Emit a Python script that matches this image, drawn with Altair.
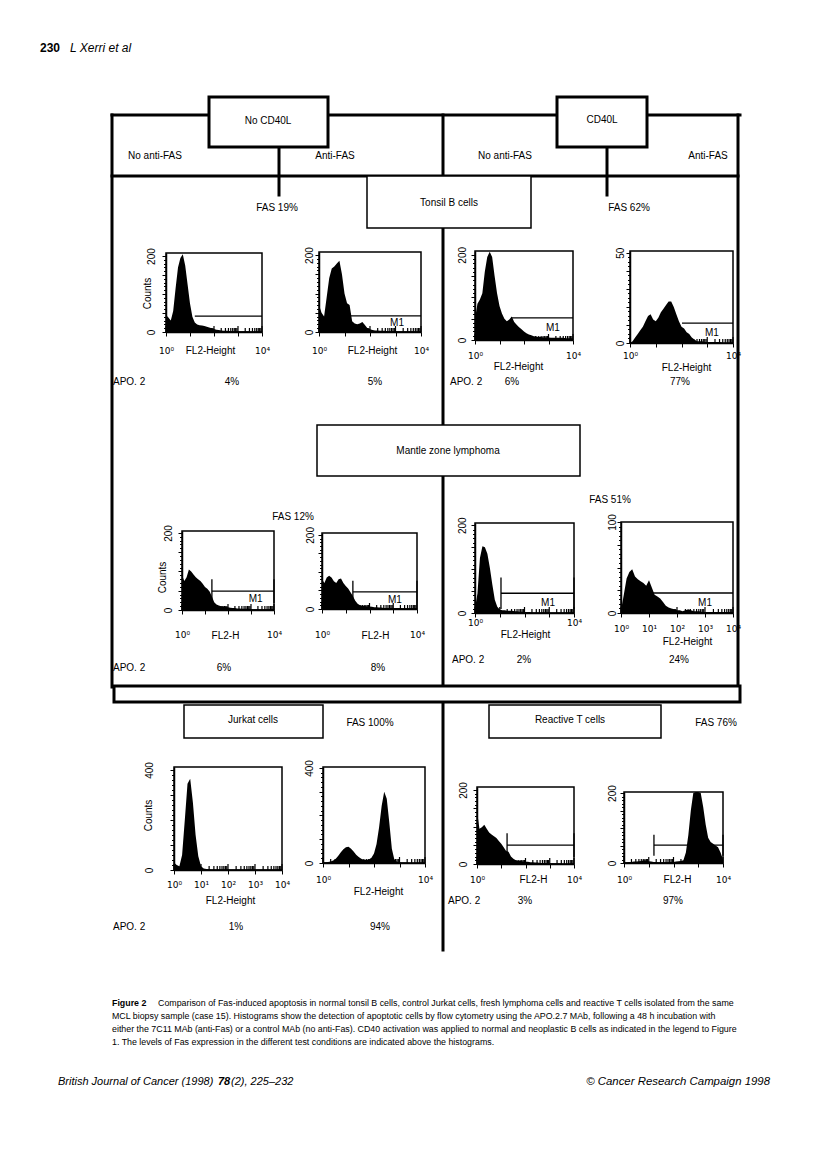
import altair as alt
import pandas as pd

FONT = "Liberation Sans"
SUP_FONT = "DejaVu Sans"

# ====================== DATA ======================
# Histogram counts, one value every 0.1 decade of FL2 (10^0 ... 10^4)
DECADES = [i / 10 for i in range(41)]

tonsil_noCD40L_noFas = [45, 38, 30, 55, 115, 170, 195, 205, 175, 125, 75, 40, 25, 20, 18, 17, 16, 14, 12, 10,
                        8, 6, 5, 4, 3, 3, 3, 2, 2, 2, 2, 2, 2, 2, 2, 1, 1, 1, 1, 1, 1]
tonsil_noCD40L_antiFas = [70, 50, 40, 90, 140, 165, 170, 178, 185, 150, 100, 75, 70, 28, 22, 20, 22, 26, 18, 10,
                          7, 5, 4, 4, 3, 3, 3, 2, 2, 2, 2, 2, 2, 2, 2, 2, 2, 2, 1, 1, 1]
tonsil_CD40L_noFas = [50, 85, 95, 110, 160, 195, 207, 195, 150, 110, 80, 62, 50, 44, 48, 55, 42, 36, 30, 25,
                      20, 16, 13, 11, 9, 8, 7, 7, 6, 6, 6, 5, 5, 5, 5, 5, 5, 4, 4, 4, 4]
tonsil_CD40L_antiFas = [0, 1, 3, 5, 7, 9, 12, 15, 16, 13, 12, 14, 17, 19, 21, 23, 23, 20, 16, 12,
                        9, 8, 6, 5, 3, 2, 1, 1, 1, 0.5, 0.5, 0.5, 0.5, 0.5, 0.5, 0.5, 0, 0, 0, 0, 0]
mcl_noCD40L_noFas = [90, 75, 85, 105, 100, 92, 85, 80, 75, 68, 60, 55, 48, 35, 20, 14, 12, 10, 9, 8,
                     7, 6, 5, 5, 4, 4, 3, 3, 3, 3, 2, 2, 2, 2, 2, 2, 2, 2, 2, 2, 2]
mcl_noCD40L_antiFas = [80, 70, 85, 90, 85, 75, 70, 80, 82, 70, 62, 55, 45, 35, 22, 14, 10, 9, 8, 7,
                       7, 6, 5, 5, 4, 4, 3, 3, 3, 3, 3, 3, 3, 3, 2, 2, 2, 2, 2, 2, 2]
mcl_CD40L_noFas = [10, 45, 125, 152, 150, 135, 103, 65, 30, 14, 8, 6, 6, 5, 5, 5, 4, 4, 3, 3,
                   2, 2, 2, 1, 1, 1, 1, 1, 1, 1, 1, 1, 1, 1, 1, 1, 1, 1, 1, 1, 1]
mcl_CD40L_antiFas = [3, 20, 38, 45, 48, 40, 37, 35, 33, 30, 36, 28, 20, 18, 16, 12, 8, 6, 5, 4,
                     3, 3, 2, 3, 4, 3, 2, 2, 2, 1, 1, 1, 1, 1, 1, 1, 1, 1, 1, 1, 1]
jurkat_noFas = [30, 20, 15, 60, 200, 345, 365, 270, 140, 55, 15, 6, 4, 3, 2, 2, 2, 2, 2, 2,
                2, 2, 2, 2, 2, 2, 2, 2, 2, 2, 2, 2, 2, 2, 2, 2, 2, 2, 2, 2, 2]
jurkat_antiFas = [3, 3, 4, 6, 10, 18, 30, 45, 58, 66, 68, 60, 48, 35, 25, 18, 14, 13, 15, 22,
                  40, 80, 150, 240, 300, 270, 170, 60, 14, 5, 3, 2, 2, 2, 1, 1, 1, 1, 1, 1, 1]
reactT_noFas = [143, 95, 99, 106, 95, 85, 80, 75, 70, 62, 55, 45, 35, 33, 20, 14, 10, 9, 8, 7,
                6, 6, 5, 5, 4, 4, 3, 3, 3, 2, 2, 2, 2, 2, 2, 1, 1, 1, 1, 1, 1]
reactT_antiFas = [2, 2, 3, 3, 4, 4, 5, 6, 8, 7, 5, 4, 3, 3, 2, 2, 2, 2, 2, 3,
                  3, 4, 5, 6, 8, 30, 80, 150, 200, 203, 203, 200, 160, 110, 72, 60, 55, 50, 45, 30, 10]

HISTS = [tonsil_noCD40L_noFas, tonsil_noCD40L_antiFas, tonsil_CD40L_noFas, tonsil_CD40L_antiFas,
         mcl_noCD40L_noFas, mcl_noCD40L_antiFas, mcl_CD40L_noFas, mcl_CD40L_antiFas,
         jurkat_noFas, jurkat_antiFas, reactT_noFas, reactT_antiFas]

# Count axis: top of frame, labelled top tick, minor tick step, major tick step
Y_MAX = [208, 208, 209, 51, 205, 205, 205, 100, 412, 404, 208, 203]
Y_TOP_LABEL = [200, 200, 200, 50, 200, 200, 200, 100, 400, 400, 200, 200]
Y_STEP = [10, 10, 10, 2.5, 10, 10, 10, 5, 20, 20, 10, 10]
Y_MAJOR = [50, 50, 50, 10, 50, 50, 50, 25, 100, 100, 50, 50]

# M1 marker: (start decade, level in counts, half height of end bars) ; label position
GATES = [(1.2, 42, 0), (1.22, 42, 0), (1.47, 52, 0), (2.02, 11, 0),
         (1.3, 49, 31), (1.3, 46, 30), (1.05, 45, 36), (1.1, 22, 0),
         None, None, (1.24, 51, 32), (1.21, 51, 30)]
M1_LABEL = [None, (3.06, 23), (3.18, 28), (3.18, 5.5), (3.2, 28), (3.07, 24), (2.95, 23), (3.0, 11),
            None, None, None, None]

X_TITLES = ["FL2-Height", "FL2-Height", "FL2-Height", "FL2-Height", "FL2-H", "FL2-H",
            "FL2-Height", "FL2-Height", "FL2-Height", "FL2-Height", "FL2-H", "FL2-H"]
X_LABEL_MODE = ["ends", "ends", "ends", "ends", "ends", "ends", "ends", "all", "all", "ends", "ends", "ends"]
COUNTS_TITLE = [True, False, False, False, True, False, False, False, True, False, False, False]

APO_VALUES = ["4%", "5%", "6%", "77%", "6%", "8%", "2%", "24%", "1%", "94%", "3%", "97%"]
FAS_VALUES = ["FAS 19%", "FAS 62%", "FAS 12%", "FAS 51%", "FAS 100%", "FAS 76%"]

CAPTION = [
    "Comparison of Fas-induced apoptosis in normal tonsil B cells, control Jurkat cells, fresh lymphoma cells and reactive T cells isolated from the same",
    "MCL biopsy sample (case 15). Histograms show the detection of apoptotic cells by flow cytometry using the APO.2.7 MAb, following a 48 h incubation with",
    "either the 7C11 MAb (anti-Fas) or a control MAb (no anti-Fas). CD40 activation was applied to normal and neoplastic B cells as indicated in the legend to Figure",
    "1. The levels of Fas expression in the different test conditions are indicated above the histograms.",
]

# ====================== LAYOUT (page pixels) ======================
W, H, M = 800, 1139, 8

PANEL_BOX = [(166, 262, 253, 332), (319, 421, 252, 332), (475, 573, 251, 340), (630, 733, 251, 343),
             (182, 274, 531, 610), (322, 417, 533, 609), (475, 574, 523, 613), (621, 733, 522, 613),
             (174, 282, 767, 870), (323, 425, 767, 863), (477, 574, 787, 864), (624, 723, 792, 863)]
Y_LABEL_OFF = [15, 10, 13, 10, 14, 12, 13, 9, 25, 14, 14, 12]
COUNTS_POS = [(147, 293), None, None, None, (162, 577), None, None, None, (148, 815), None, None, None]
X_LABEL_Y = [350, 350, 355, 355, 634, 634, 622, 628, 884, 879, 879, 879]
X_TITLE_POS = [(210, 350), (372, 350), (518, 366), (686, 367), (225, 635), (375, 635),
               (525, 634), (687, 641), (230, 900), (378, 891), (533, 879), (677, 879)]
MINOR_TICK_PX, MAJOR_TICK_PX = 4, 6   # inward x ticks

FRAME_LINES = [  # x1, y1, x2, y2, width
    (112, 115, 740, 115, 3), (112, 115, 112, 687, 3), (738, 115, 738, 687, 3),
    (112, 176, 738, 176, 3), (443, 115, 443, 950, 3),
    (279, 147, 279, 195, 3), (607, 147, 607, 195, 3),
]
FRAME_BOXES = [  # x1, y1, x2, y2, width
    (209, 97, 328, 147, 3), (557, 97, 647, 147, 3),
    (367, 176, 531, 228, 1.5), (317, 425, 580, 476, 1.5),
    (114, 686, 740, 702, 3),
    (184, 705, 323, 738, 1.5), (489, 705, 661, 738, 1.5),
]

TEXTS = [  # x, y, text, size, align, weight, style
    (40, 48, "230", 12, "left", "bold", "normal"),
    (70, 48, "L Xerri et al", 12, "left", "normal", "italic"),
    (268, 121, "No CD40L", 10, "center", "normal", "normal"),
    (602, 120, "CD40L", 10, "center", "normal", "normal"),
    (155, 156, "No anti-FAS", 10, "center", "normal", "normal"),
    (335, 156, "Anti-FAS", 10, "center", "normal", "normal"),
    (505, 156, "No anti-FAS", 10, "center", "normal", "normal"),
    (708, 156, "Anti-FAS", 10, "center", "normal", "normal"),
    (449, 203, "Tonsil B cells", 10, "center", "normal", "normal"),
    (277, 208, FAS_VALUES[0], 10, "center", "normal", "normal"),
    (629, 208, FAS_VALUES[1], 10, "center", "normal", "normal"),
    (448, 451, "Mantle zone lymphoma", 10, "center", "normal", "normal"),
    (293, 517, FAS_VALUES[2], 10, "center", "normal", "normal"),
    (610, 500, FAS_VALUES[3], 10, "center", "normal", "normal"),
    (253, 720, "Jurkat cells", 10, "center", "normal", "normal"),
    (370, 723, FAS_VALUES[4], 10, "center", "normal", "normal"),
    (570, 720, "Reactive T cells", 10, "center", "normal", "normal"),
    (716, 723, FAS_VALUES[5], 10, "center", "normal", "normal"),
    # APO.2 rows
    (113, 382, "APO. 2", 10, "left", "normal", "normal"),
    (232, 382, APO_VALUES[0], 10, "center", "normal", "normal"),
    (375, 382, APO_VALUES[1], 10, "center", "normal", "normal"),
    (450, 382, "APO. 2", 10, "left", "normal", "normal"),
    (512, 382, APO_VALUES[2], 10, "center", "normal", "normal"),
    (680, 382, APO_VALUES[3], 10, "center", "normal", "normal"),
    (113, 668, "APO. 2", 10, "left", "normal", "normal"),
    (224, 668, APO_VALUES[4], 10, "center", "normal", "normal"),
    (378, 668, APO_VALUES[5], 10, "center", "normal", "normal"),
    (452, 660, "APO. 2", 10, "left", "normal", "normal"),
    (524, 660, APO_VALUES[6], 10, "center", "normal", "normal"),
    (679, 660, APO_VALUES[7], 10, "center", "normal", "normal"),
    (113, 927, "APO. 2", 10, "left", "normal", "normal"),
    (236, 927, APO_VALUES[8], 10, "center", "normal", "normal"),
    (380, 927, APO_VALUES[9], 10, "center", "normal", "normal"),
    (448, 901, "APO. 2", 10, "left", "normal", "normal"),
    (525, 901, APO_VALUES[10], 10, "center", "normal", "normal"),
    (673, 901, APO_VALUES[11], 10, "center", "normal", "normal"),
    # caption
    (112, 1003, "Figure 2", 8.85, "left", "bold", "normal"),
    (158, 1003, CAPTION[0], 8.85, "left", "normal", "normal"),
    (112, 1016, CAPTION[1], 8.85, "left", "normal", "normal"),
    (112, 1029, CAPTION[2], 8.85, "left", "normal", "normal"),
    (112, 1042, CAPTION[3], 8.85, "left", "normal", "normal"),
    # footer
    (58, 1082, "British Journal of Cancer (1998)", 11, "left", "normal", "italic"),
    (218, 1082, "78", 11, "left", "bold", "italic"),
    (231, 1082, "(2), 225\u2013232", 11, "left", "normal", "italic"),
    (770, 1082, "\u00a9 Cancer Research Campaign 1998", 11.4, "right", "normal", "italic"),
]

# ====================== BUILD ======================
FX = alt.Scale(domain=[M, M + W], range=[0, W], nice=False, zero=False)
FY = alt.Scale(domain=[M, M + H], range=[0, H], nice=False, zero=False)

lines_df = pd.DataFrame(FRAME_LINES, columns=["x", "y", "x2", "y2", "w"])
boxes_df = pd.DataFrame(FRAME_BOXES, columns=["x", "y", "x2", "y2", "w"])

frame_layers = [
    alt.Chart(lines_df).mark_rule(color="black", strokeCap="square").encode(
        x=alt.X("x:Q", scale=FX, axis=None), x2="x2:Q",
        y=alt.Y("y:Q", scale=FY, axis=None), y2="y2:Q",
        strokeWidth=alt.StrokeWidth("w:Q", scale=None)),
    alt.Chart(boxes_df).mark_rect(fill="white", stroke="black").encode(
        x=alt.X("x:Q", scale=FX, axis=None), x2="x2:Q",
        y=alt.Y("y:Q", scale=FY, axis=None), y2="y2:Q",
        strokeWidth=alt.StrokeWidth("w:Q", scale=None)),
]

groups = {}
for (x, y, t, size, align, weight, style) in TEXTS:
    groups.setdefault((size, align, weight, style), []).append((x, y, t))
for (size, align, weight, style), rows in groups.items():
    df = pd.DataFrame(rows, columns=["x", "y", "t"])
    frame_layers.append(
        alt.Chart(df).mark_text(font=FONT, fontSize=size, align=align, baseline="middle",
                                fontWeight=weight, fontStyle=style, color="black").encode(
            x=alt.X("x:Q", scale=FX, axis=None), y=alt.Y("y:Q", scale=FY, axis=None), text="t:N"))

frame = alt.layer(*frame_layers)

SUP = "['\u2070','\u00b9','\u00b2','\u00b3','\u2074']"
DECADE_TICKS = [1, 10, 100, 1000, 10000]
X_TICKS = [k * 10 ** e for e in range(4) for k in range(1, 10)] + [10000]
one = pd.DataFrame({"k": [0]})


def make_panel(i):
    x0, x1, y0, y1 = PANEL_BOX[i]
    ymax = Y_MAX[i]
    xs = alt.Scale(type="log", domain=[1, 10000], range=[x0 - M, x1 - M], nice=False)
    ys = alt.Scale(domain=[0, ymax], range=[y1 - M, y0 - M], nice=False, zero=False)

    shown = "[1,10000]" if X_LABEL_MODE[i] == "ends" else "[1,10,100,1000,10000]"
    tx, ty = X_TITLE_POS[i]
    xaxis = alt.Axis(
        orient="bottom", offset=(y1 - M) - H, values=DECADE_TICKS,
        labelExpr=f"indexof({shown}, datum.value) >= 0 ? '10' + {SUP}[round(log(datum.value)/LN10)] : ''",
        labelOverlap=False, labelFlush=False, labelBaseline="middle",
        labelPadding=X_LABEL_Y[i] - y1 - 4, labelFont=SUP_FONT, labelFontSize=9, labelColor="black",
        tickColor="black", tickWidth=1, tickSize=4,
        domainColor="black", domainWidth=1.5, grid=False,
        titleFont=FONT, titleFontSize=10, titleFontWeight="normal", titleColor="black",
        titleX=tx - M, titleY=ty - y1, titleBaseline="middle", titleAlign="center", titleAngle=0)

    nsteps = int(round(Y_TOP_LABEL[i] / Y_STEP[i]))
    yticks = [round(k * Y_STEP[i], 3) for k in range(nsteps + 1)]
    ykw = dict(
        orient="left", offset=-(x0 - M), values=yticks,
        labelExpr=f"datum.value == 0 || datum.value == {Y_TOP_LABEL[i]} ? datum.label : ''",
        labelOverlap=False, labelFlush=False, labelAngle=270, labelAlign="center", labelBaseline="middle",
        labelPadding=Y_LABEL_OFF[i] - 4, labelFont=FONT, labelFontSize=10, labelColor="black",
        tickColor="black", tickWidth=1,
        tickSize={"condition": {"test": f"datum.value % {Y_MAJOR[i]} == 0", "value": 4}, "value": 2.5},
        domainColor="black", domainWidth=1.5, grid=False,
        titleFont=FONT, titleFontSize=10, titleFontWeight="normal", titleColor="black")
    if COUNTS_POS[i]:
        cx, cy = COUNTS_POS[i]
        ykw.update(titleX=cx - x0, titleY=cy - M, titleAngle=270, titleBaseline="middle", titleAlign="center")
    yaxis = alt.Axis(**ykw)
    xt = X_TITLES[i]
    yt = "Counts" if COUNTS_TITLE[i] else ""

    def X(field):
        return alt.X(field, scale=xs, axis=xaxis, title=xt)

    def Y(field):
        return alt.Y(field, scale=ys, axis=yaxis, title=yt)

    def XD(v):
        return alt.XDatum(v, scale=xs, axis=xaxis, title=xt)

    def YD(v):
        return alt.YDatum(v, scale=ys, axis=yaxis, title=yt)

    # inward x ticks (CellQuest style), length converted from pixels to counts
    per_px = ymax / (y1 - y0)
    tdf = pd.DataFrame({
        "fl": X_TICKS,
        "n": [0] * len(X_TICKS),
        "n2": [(MAJOR_TICK_PX if v in DECADE_TICKS else MINOR_TICK_PX) * per_px for v in X_TICKS],
    })

    df = pd.DataFrame({"fl": [10 ** d for d in DECADES], "n": HISTS[i]})
    layers = [
        alt.Chart(df).mark_area(color="black", interpolate="linear").encode(x=X("fl:Q"), y=Y("n:Q")),
        alt.Chart(tdf).mark_rule(color="black", strokeWidth=1.2).encode(x=X("fl:Q"), y=Y("n:Q"), y2="n2:Q"),
        alt.Chart(one).mark_rect(filled=False, stroke="black", strokeWidth=1.5).encode(
            x=XD(1), x2=alt.X2Datum(10000), y=YD(0), y2=alt.Y2Datum(ymax)),
    ]
    g = GATES[i]
    if g:
        s, lvl, half = g
        gdf = pd.DataFrame({"fl": [10 ** s], "fl2": [10000], "n": [lvl]})
        layers.append(alt.Chart(gdf).mark_rule(color="black", strokeWidth=1.3).encode(
            x=X("fl:Q"), x2="fl2:Q", y=Y("n:Q")))
        if half:
            vdf = pd.DataFrame({"fl": [10 ** s, 10000], "n": [max(0, lvl - half)] * 2, "n2": [lvl + half] * 2})
            layers.append(alt.Chart(vdf).mark_rule(color="black", strokeWidth=1.3).encode(
                x=X("fl:Q"), y=Y("n:Q"), y2="n2:Q"))
    lab = M1_LABEL[i]
    if lab:
        layers.append(alt.Chart(one).mark_text(font=FONT, fontSize=10, align="center", baseline="middle",
                                               color="black").encode(
            x=XD(10 ** lab[0]), y=YD(lab[1]), text=alt.value("M1")))
    return alt.layer(*layers)


panels = [make_panel(i) for i in range(12)]

chart = alt.layer(frame, *panels).resolve_scale(x="independent", y="independent").properties(
    width=W, height=H, padding=0, autosize=alt.AutoSizeParams(type="none")
).configure_view(strokeWidth=0)

chart.save("out.html", embed_options={"renderer": "svg", "actions": False})
